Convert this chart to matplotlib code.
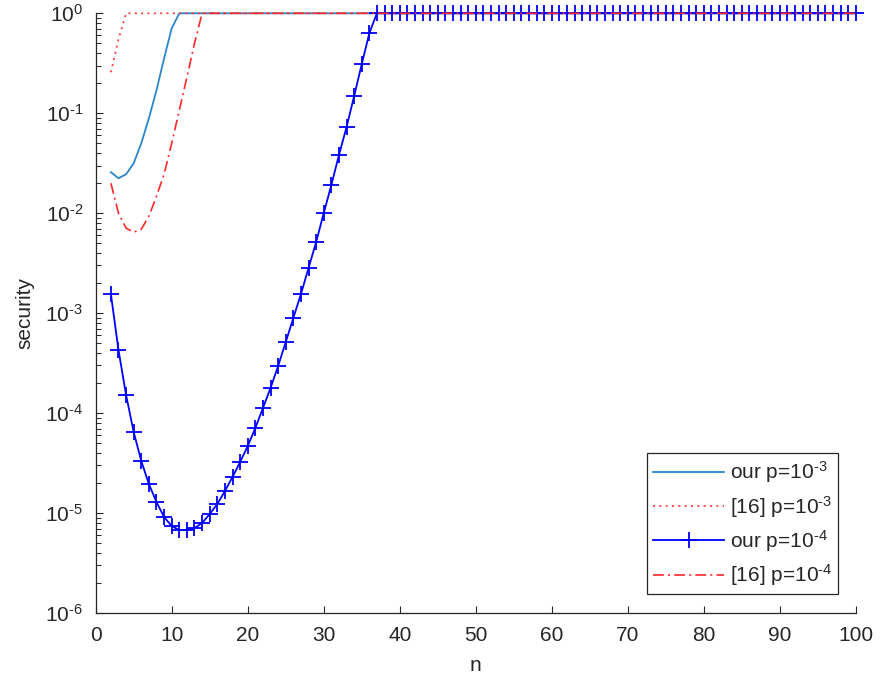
import numpy as np
import matplotlib
matplotlib.use("Agg")
import matplotlib.pyplot as plt
from matplotlib.ticker import LogLocator, NullFormatter, FixedLocator, FuncFormatter

plt.rcParams['font.family'] = ['Liberation Sans', 'DejaVu Sans']
plt.rcParams['mathtext.fontset'] = 'custom'
plt.rcParams['mathtext.rm'] = 'Liberation Sans'
plt.rcParams['mathtext.it'] = 'Liberation Sans:italic'
plt.rcParams['mathtext.bf'] = 'Liberation Sans:bold'

# ---- data ----
n = list(range(2, 101))

# log10 of security, our scheme, p = 1e-3 (n = 2..11, then 1)
our_p3_log = [-1.59, -1.65, -1.61, -1.50, -1.30, -1.05, -0.77, -0.45, -0.15, 0.0]
# [16], p = 1e-3 (n = 2..4, then 1)
ref_p3_log = [-0.59, -0.26, 0.0]
# our scheme, p = 1e-4 (n = 2..37, then 1)
our_p4_log = [-2.81, -3.37, -3.82, -4.19, -4.48, -4.71, -4.89, -5.04, -5.13, -5.17,
              -5.17, -5.15, -5.10, -5.01, -4.91, -4.78, -4.64, -4.49, -4.33, -4.15,
              -3.95, -3.75, -3.53, -3.29, -3.05, -2.81, -2.55, -2.29, -2.00, -1.72,
              -1.42, -1.14, -0.83, -0.51, -0.20, 0.0]
# [16], p = 1e-4 (n = 2..14, then 1)
ref_p4_log = [-1.70, -2.00, -2.15, -2.19, -2.16, -2.03, -1.83, -1.61, -1.30, -0.97,
              -0.64, -0.30, 0.0]

labels = [r'our p=10$^{\text{-}3}$', r'[16] p=10$^{\text{-}3}$',
          r'our p=10$^{\text{-}4}$', r'[16] p=10$^{\text{-}4}$']
x_ticks = [0, 10, 20, 30, 40, 50, 60, 70, 80, 90, 100]
y_ticks = [1e-6, 1e-5, 1e-4, 1e-3, 1e-2, 1e-1, 1]


def full(vals):
    v = list(vals) + [0.0] * (len(n) - len(vals))
    return [10 ** x for x in v]


our_p3 = full(our_p3_log)
ref_p3 = full(ref_p3_log)
our_p4 = full(our_p4_log)
ref_p4 = full(ref_p4_log)

# ---- figure ----
fig = plt.figure(figsize=(8.82, 6.89), dpi=100)
ax = fig.add_axes([0.1085, 0.1103, 0.8617, 0.8704])

tc = '#262626'
ax.plot(n, our_p3, color='#2a86cc', lw=1.3, label=labels[0], clip_on=False, zorder=2)
ax.plot(n, ref_p3, color='#ff3030', lw=1.2, ls=(0, (1.2, 2.6)), label=labels[1],
        clip_on=False, zorder=3)
ax.plot(n, our_p4, color='#0000ff', lw=1.3, marker='+', ms=11, mew=1.3,
        label=labels[2], clip_on=False, zorder=4)
ax.plot(n, ref_p4, color='#ff2828', lw=1.2, ls=(0, (6.5, 2.5, 1.2, 2.5)), label=labels[3],
        clip_on=False, zorder=5)

ax.set_yscale('log')
ax.set_xlim(0, 100)
ax.set_ylim(1e-6, 1)
ax.xaxis.set_major_locator(FixedLocator(x_ticks))
ax.yaxis.set_major_locator(FixedLocator(y_ticks))
ax.yaxis.set_minor_locator(LogLocator(base=10, subs=np.arange(2, 10), numticks=20))
ax.yaxis.set_minor_formatter(NullFormatter())


def yfmt(v, pos):
    k = int(round(np.log10(v)))
    if k < 0:
        return r'10$^{\text{-}%d}$' % (-k)
    return r'10$^{%d}$' % k


ax.yaxis.set_major_formatter(FuncFormatter(yfmt))

for s in ['top', 'right']:
    ax.spines[s].set_visible(False)
for s in ['left', 'bottom']:
    ax.spines[s].set_color(tc)
    ax.spines[s].set_linewidth(0.9)

ax.tick_params(axis='both', which='major', direction='in', length=5, width=0.8,
               colors=tc, labelsize=15)
ax.tick_params(axis='y', which='minor', direction='in', length=3.5, width=0.7, colors=tc)
ax.tick_params(axis='x', which='major', pad=9)
ax.tick_params(axis='y', which='major', pad=9)

ax.set_xlabel('n', fontsize=15, color=tc, labelpad=8)
ax.set_ylabel('security', fontsize=15, color=tc, labelpad=8)

leg = ax.legend(loc='lower right', bbox_to_anchor=(0.977, 0.031), borderaxespad=0,
                fontsize=15, frameon=True, fancybox=False, framealpha=1,
                edgecolor=tc, handlelength=3.4, handletextpad=0.25,
                labelspacing=0.4, borderpad=0.3)
leg.get_frame().set_linewidth(0.9)
for t in leg.get_texts():
    t.set_color(tc)

fig.savefig('out.png', dpi=100)
